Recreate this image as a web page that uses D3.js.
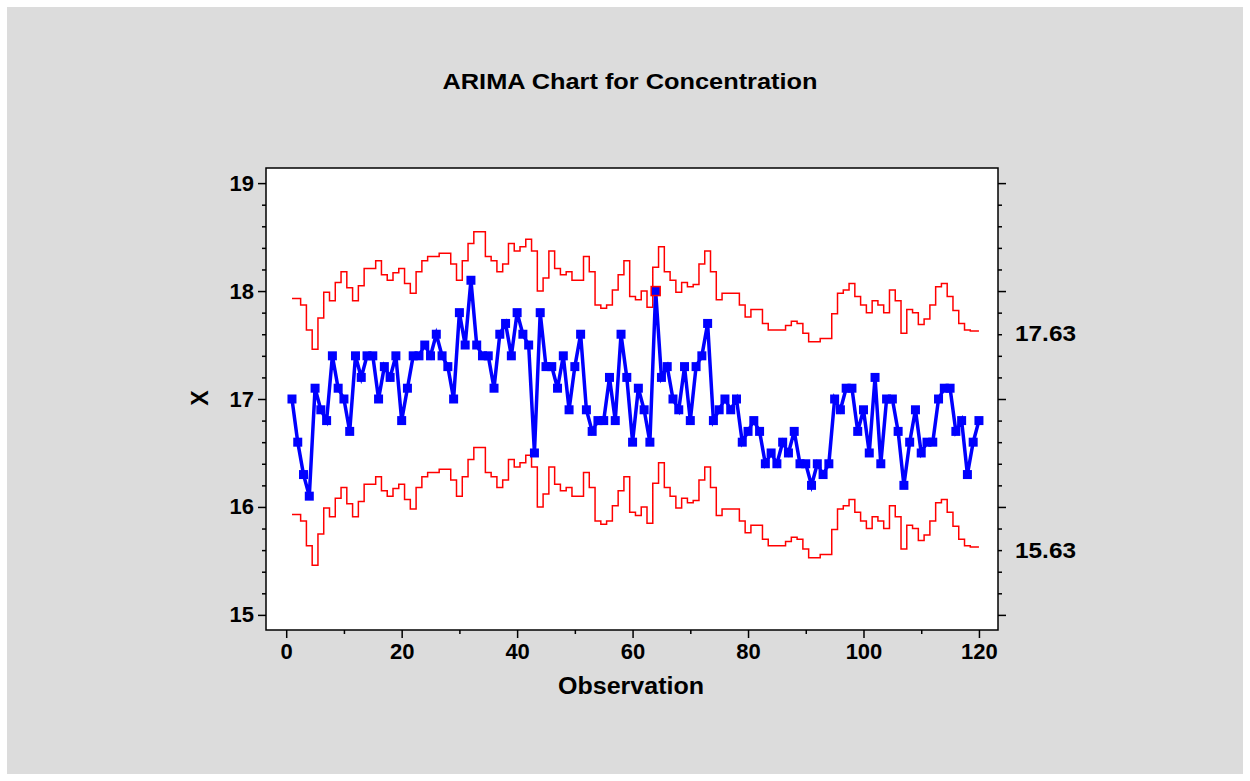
<!DOCTYPE html>
<html><head><meta charset="utf-8">
<script src="https://cdn.jsdelivr.net/npm/d3@7"></script>
<style>body{margin:0;background:#fff}svg{display:block}text{font-family:Arial,"Liberation Sans",sans-serif;font-weight:bold}</style>
</head><body><svg id="c" width="1250" height="781"></svg>
<script>
const obs = d3.range(1, 121);
const values = [17.0,16.6,16.3,16.1,17.1,16.9,16.8,17.4,17.1,17.0,16.7,17.4,17.2,17.4,17.4,17.0,17.3,17.2,17.4,16.8,
17.1,17.4,17.4,17.5,17.4,17.6,17.4,17.3,17.0,17.8,17.5,18.1,17.5,17.4,17.4,17.1,17.6,17.7,17.4,17.8,
17.6,17.5,16.5,17.8,17.3,17.3,17.1,17.4,16.9,17.3,17.6,16.9,16.7,16.8,16.8,17.2,16.8,17.6,17.2,16.6,
17.1,16.9,16.6,18.0,17.2,17.3,17.0,16.9,17.3,16.8,17.3,17.4,17.7,16.8,16.9,17.0,16.9,17.0,16.6,16.7,
16.8,16.7,16.4,16.5,16.4,16.6,16.5,16.7,16.4,16.4,16.2,16.4,16.3,16.4,17.0,16.9,17.1,17.1,16.7,16.9,
16.5,17.2,16.4,17.0,17.0,16.7,16.2,16.6,16.9,16.5,16.6,16.6,17.0,17.1,17.1,16.7,16.8,16.3,16.6,16.8];
const upper = [17.93,17.93,17.87,17.64,17.46,17.75,17.99,17.91,18.08,18.18,18.03,17.91,18.05,18.21,18.21,18.28,18.15,18.10,18.17,18.21,
18.07,17.98,18.18,18.28,18.32,18.32,18.35,18.35,18.25,18.10,18.28,18.44,18.55,18.55,18.32,18.28,18.18,18.25,18.44,18.37,
18.41,18.48,18.37,18.00,18.12,18.37,18.21,18.15,18.18,18.10,18.10,18.32,18.18,17.87,17.84,17.87,18.01,18.15,18.28,17.95,
17.92,18.00,17.85,18.22,18.41,18.18,18.10,17.99,18.08,18.04,18.06,18.25,18.37,18.18,17.92,17.98,17.98,17.98,17.87,17.76,
17.83,17.83,17.70,17.64,17.64,17.64,17.68,17.72,17.70,17.61,17.53,17.53,17.56,17.56,17.79,17.98,18.01,18.07,17.95,17.87,
17.80,17.91,17.87,17.80,18.01,17.91,17.61,17.83,17.80,17.69,17.74,17.87,18.04,18.07,17.95,17.82,17.70,17.64,17.63,17.63];
const halfWidth = 1.0;
const lower = upper.map(u => +(u - 2 * halfWidth).toFixed(2));
const outOfControl = [64];

const svg = d3.select('#c');
svg.append('rect').attr('x',7).attr('y',7).attr('width',1236).attr('height',767).attr('fill','#dcdcdc');

const L = 266, R = 998, T = 168, B = 630;
const x = d3.scaleLinear().domain([-3.5, 123.3]).range([L, R]);
const y = d3.scaleLinear().domain([14.86, 19.14]).range([B, T]);

svg.append('rect').attr('x',L).attr('y',T).attr('width',R-L).attr('height',B-T)
  .attr('fill','#fff').attr('stroke','#000').attr('stroke-width',1.5);

svg.append('text').attr('x',630).attr('y',89).attr('text-anchor','middle').attr('font-size',22)
  .attr('textLength',375).attr('lengthAdjust','spacingAndGlyphs').text('ARIMA Chart for Concentration');

// axes
const yAx = svg.append('g').attr('transform',`translate(${L},0)`)
  .call(d3.axisLeft(y).tickValues([15,16,17,18,19]).tickFormat(d3.format('d')).tickSize(8).tickSizeOuter(0));
svg.append('g').attr('transform',`translate(${R},0)`)
  .call(d3.axisRight(y).tickValues([15,16,17,18,19]).tickFormat('').tickSize(8).tickSizeOuter(0));
const minor = d3.range(15, 19.01, 0.2).filter(v => Math.abs(v - Math.round(v)) > 0.01);
svg.append('g').attr('transform',`translate(${L},0)`).call(d3.axisLeft(y).tickValues(minor).tickFormat('').tickSize(4).tickSizeOuter(0));
svg.append('g').attr('transform',`translate(${R},0)`).call(d3.axisRight(y).tickValues(minor).tickFormat('').tickSize(4).tickSizeOuter(0));
const xAx = svg.append('g').attr('transform',`translate(0,${B})`)
  .call(d3.axisBottom(x).tickValues([0,20,40,60,80,100,120]).tickSize(8).tickSizeOuter(0));
svg.append('g').attr('transform',`translate(0,${B})`)
  .call(d3.axisBottom(x).tickValues([10,30,50,70,90,110]).tickFormat('').tickSize(4).tickSizeOuter(0));
svg.selectAll('.domain').remove();
svg.selectAll('.tick line').attr('stroke','#000').attr('stroke-width',1.5);
svg.selectAll('.tick text').attr('font-size',22).attr('fill','#000');
yAx.selectAll('.tick text').attr('x',-12);
xAx.selectAll('.tick text').attr('y',13);

svg.append('text').attr('x',631).attr('y',694).attr('text-anchor','middle').attr('font-size',23)
  .attr('textLength',146).attr('lengthAdjust','spacingAndGlyphs').text('Observation');
svg.append('text').attr('transform','translate(208,398) rotate(-90)').attr('text-anchor','middle').attr('font-size',23).text('X');

// limits
const step = d3.line().x((d,i) => x(obs[i])).y(d => y(d)).curve(d3.curveStep);
[upper, lower].forEach(arr => {
  svg.append('path').datum(arr).attr('d', step).attr('fill','none').attr('stroke','#ff0000').attr('stroke-width',1.5);
});
svg.append('text').attr('x',1015).attr('y',341).attr('font-size',22)
  .attr('textLength',61).attr('lengthAdjust','spacingAndGlyphs').text(upper[upper.length-1].toFixed(2));
svg.append('text').attr('x',1015).attr('y',558).attr('font-size',22)
  .attr('textLength',61).attr('lengthAdjust','spacingAndGlyphs').text(lower[lower.length-1].toFixed(2));

// data
const line = d3.line().x((d,i) => x(obs[i])).y(d => y(d));
svg.append('path').datum(values).attr('d', line).attr('fill','none').attr('stroke','#0000ff').attr('stroke-width',3.5);
svg.selectAll('rect.pt').data(values).enter().append('rect').attr('class','pt')
  .attr('x',(d,i) => x(obs[i]) - 4.5).attr('y', d => y(d) - 4.5)
  .attr('width',9).attr('height',9).attr('fill','#0000ff')
  .attr('stroke',(d,i) => outOfControl.includes(obs[i]) ? '#ff0000' : 'none').attr('stroke-width',1.5);
</script></body></html>
